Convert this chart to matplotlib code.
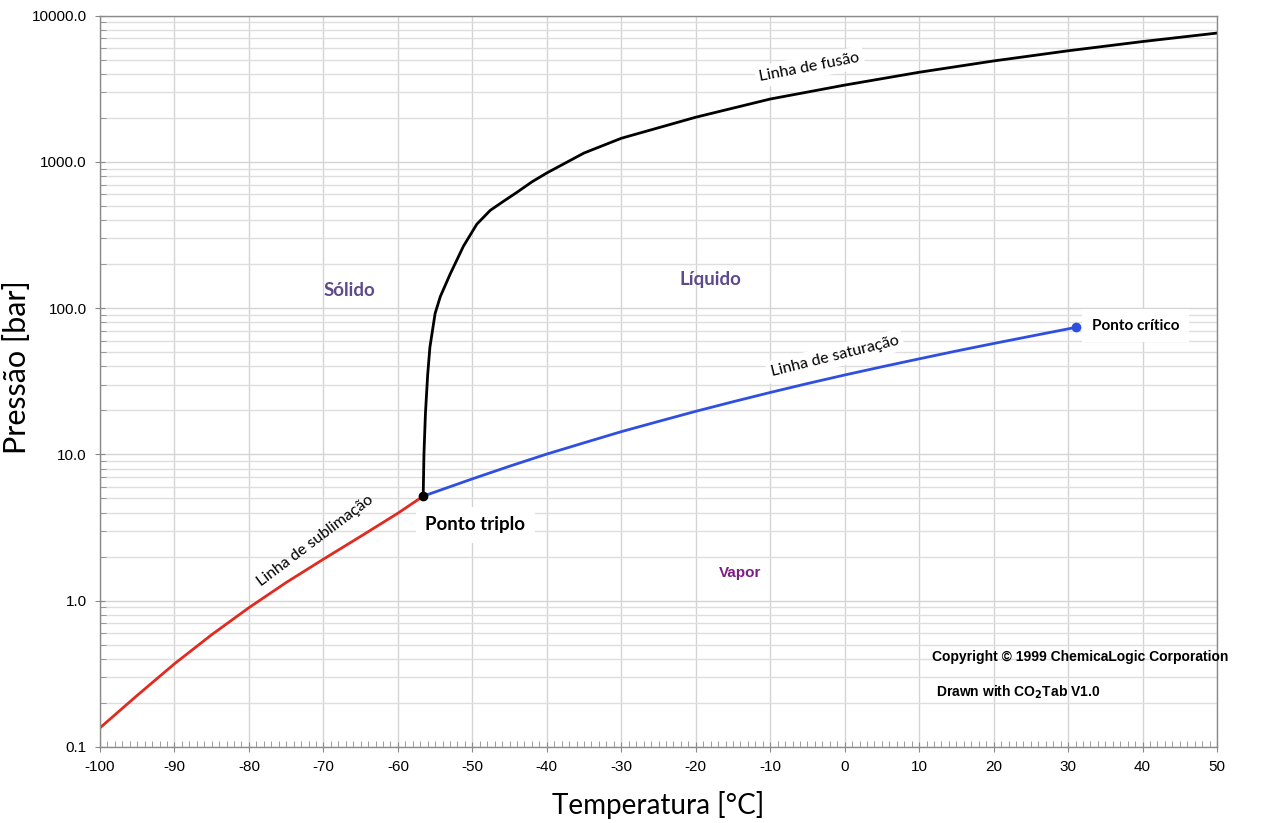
import numpy as np
import matplotlib.pyplot as plt
from matplotlib.ticker import FixedLocator, FuncFormatter, MultipleLocator

plt.rcParams["axes.unicode_minus"] = False

subl_T = [-100, -95, -90, -85, -80, -75, -70, -65, -60, -56.6]
subl_p = [0.135, 0.225, 0.37, 0.585, 0.895, 1.33, 1.92, 2.75, 3.96, 5.18]

sat_T = [-56.6, -50, -45, -40, -35, -30, -25, -20, -15, -10, -5, 0, 5, 10, 15, 20, 25, 31.0]
sat_p = [5.18, 6.8, 8.3, 10.05, 12.0, 14.3, 16.8, 19.7, 22.9, 26.5, 30.5, 34.9, 39.7,
         45.0, 50.9, 57.3, 64.3, 73.8]

melt_T = [-56.6, -56.5, -56.3, -56.0, -55.7, -55.0, -54.3, -53.0, -51.2, -49.4, -47.6,
          -46.0, -44.0, -42.0, -40, -35, -30, -20, -10, 0, 10, 20, 30, 40, 50]
melt_p = [5.18, 10, 19, 35, 54, 92, 120, 170, 265, 375, 466, 530, 620, 730, 840, 1150,
          1450, 2020, 2690, 3350, 4100, 4900, 5750, 6650, 7600]

triple = (-56.6, 5.18)
critical = (31.0, 73.8)

y_major = [0.1, 1, 10, 100, 1000, 10000]

fig = plt.figure(figsize=(12.66, 8.23), dpi=100)
ax = fig.add_axes([0.079, 0.0925, 0.8823, 0.8885])

ax.set_yscale("log")
ax.set_xlim(-100, 50)
ax.set_ylim(0.1, 10000)

# grade
ax.xaxis.set_major_locator(MultipleLocator(10))
ax.xaxis.set_minor_locator(MultipleLocator(1))
ax.yaxis.set_major_locator(FixedLocator(y_major))
minors = [m * d for d in y_major[:-1] for m in range(2, 10)]
ax.yaxis.set_minor_locator(FixedLocator(minors))
ax.yaxis.set_major_formatter(FuncFormatter(lambda v, p: f"{v:.1f}"))
ax.yaxis.set_minor_formatter(FuncFormatter(lambda v, p: ""))

ax.grid(True, which="major", color="#d4d4d4", lw=1.0)
ax.grid(True, which="minor", axis="y", color="#dedede", lw=1.0)
ax.set_axisbelow(True)

for s in ax.spines.values():
    s.set_color("#8a8a8a")
    s.set_linewidth(1.0)

ax.tick_params(which="major", direction="inout", length=7, color="#8a8a8a",
               labelsize=11, pad=6)
ax.tick_params(which="minor", direction="in", length=4, color="#8a8a8a")
for lab in ax.get_xticklabels() + ax.get_yticklabels():
    lab.set_fontfamily("Liberation Sans")

# curvas
ax.plot(subl_T, subl_p, color="#e02b20", lw=2)
ax.plot(sat_T, sat_p, color="#2f4fe0", lw=2)
ax.plot(melt_T, melt_p, color="black", lw=2)
ax.plot(*triple, "o", color="black", ms=6, zorder=5)
ax.plot(*critical, "o", color="#2f4fe0", ms=6, zorder=5)

box = dict(facecolor="white", edgecolor="none", pad=3)
ax.text(-56.3, 3.3, "Ponto triplo", fontsize=13.5, fontweight="bold", family="Lato",
        ha="left", va="center", bbox=dict(facecolor="white", edgecolor="none", pad=7))
ax.text(33.2, 76, "Ponto crítico", fontsize=11, fontweight="bold", family="Lato",
        ha="left", va="center", bbox=dict(facecolor="white", edgecolor="none", pad=7))

ax.text(-4.7, 4440, "Linha de fusão", fontsize=11.5, family="Lato", rotation=11,
        ha="center", va="center", bbox=box)
ax.text(-1.3, 47, "Linha de saturação", fontsize=11.5, family="Lato", rotation=14,
        ha="center", va="center", bbox=box)
ax.text(-71.1, 2.56, "Linha de sublimação", fontsize=11.5, family="Lato", rotation=37,
        ha="center", va="center")

ax.text(-66.5, 132, "Sólido", fontsize=13.5, fontweight="bold", family="Lato",
        color="#5f4b8b", ha="center", va="center")
ax.text(-18.0, 157, "Líquido", fontsize=13.5, fontweight="bold", family="Lato",
        color="#5f4b8b", ha="center", va="center")
ax.text(-14, 1.55, "Vapor", fontsize=11, fontweight="bold", family="Liberation Sans",
        color="#7b1f80", ha="center", va="center")

ax.text(11.7, 0.41, "Copyright © 1999 ChemicaLogic Corporation", fontsize=10,
        fontweight="bold", family="Liberation Sans", ha="left", va="center")
ax.text(12.3, 0.237, "Drawn with CO$_\\mathbf{2}$Tab V1.0", fontsize=10,
        fontweight="bold", family="Liberation Sans", ha="left", va="center")

ax.set_xlabel("Temperatura [°C]", fontsize=20, family="Lato", labelpad=12)
ax.set_ylabel("Pressão [bar]", fontsize=22, family="Lato")
ax.yaxis.set_label_coords(-0.062, 0.52)

fig.savefig("out.png", dpi=100)
